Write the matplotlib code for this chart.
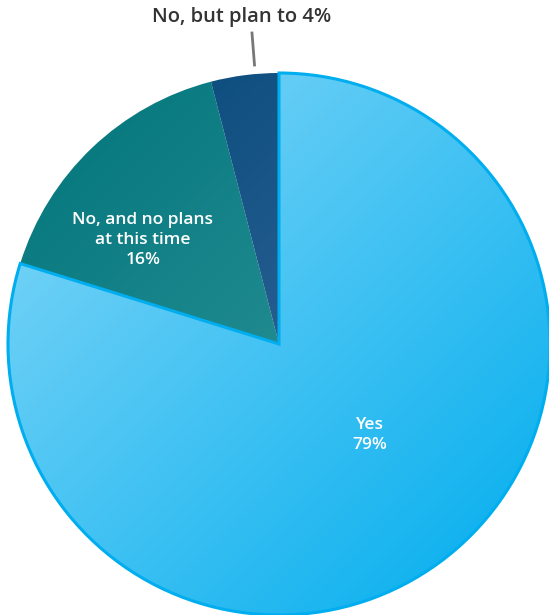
import numpy as np
import matplotlib.pyplot as plt
from matplotlib.colors import LinearSegmentedColormap

labels = ["Yes", "No, and no plans\nat this time", "No, but plan to"]
values = [79, 16, 4]

# gradient pair for each slice (top-left, bottom-right)
gradients = [("#86d8f8", "#00adee"), ("#00747a", "#3fa1a6"), ("#004676", "#4c74aa")]
edges = ["#00aeef", "none", "none"]

W, H = 549, 615
cx, cy, r = 279, H - 344, 271

fig = plt.figure(figsize=(W / 100, H / 100), dpi=100)
ax = fig.add_axes([0, 0, 1, 1])

wedges, _ = ax.pie(values, startangle=90, counterclock=False, center=(cx, cy),
                   radius=r, frame=True,
                   wedgeprops=dict(facecolor="none", linewidth=2.2))
ax.set_xlim(0, W)
ax.set_ylim(0, H)
ax.set_aspect("equal")
ax.axis("off")

# diagonal gradient image, clipped to each wedge
yy, xx = np.mgrid[0:1:300j, 0:1:300j]
grad = (xx + yy) / 2
extent = (cx - r, cx + r, cy - r, cy + r)
for w, (c0, c1), ec in zip(wedges, gradients, edges):
    cmap = LinearSegmentedColormap.from_list("g", [c0, c1])
    im = ax.imshow(grad, cmap=cmap, extent=extent, origin="upper", zorder=1,
                   interpolation="bilinear")
    im.set_clip_path(w)
    w.set_edgecolor(ec)
    w.set_zorder(2)

font = "Open Sans"
ax.text(143, H - 240, labels[1] + "\n16%", color="white", ha="center", va="center",
        fontsize=12.5, family=font, fontweight="semibold", linespacing=1.35, zorder=3)
ax.text(370, H - 435, labels[0] + "\n79%", color="white", ha="center", va="center",
        fontsize=12.5, family=font, fontweight="semibold", linespacing=1.35, zorder=3)
ax.text(242, H - 17, labels[2] + " 4%", color="#333333", ha="center", va="center",
        fontsize=14.5, family=font, fontweight="semibold", zorder=3)
ax.plot([252, 254.5], [H - 33, H - 65], color="#777777", linewidth=2, zorder=3)

fig.savefig("out.png", dpi=100)
